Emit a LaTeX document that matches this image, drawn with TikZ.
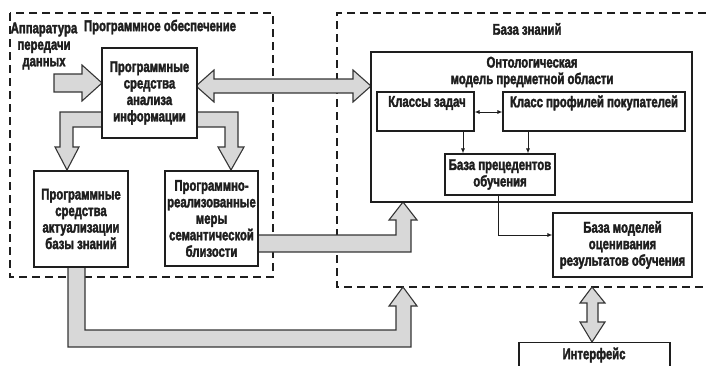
\documentclass[tikz,border=0pt]{standalone}
\usepackage{fontspec}
\newfontfamily\dfont{Liberation Sans}[FakeStretch=0.73, FakeBold=2.2]
\usetikzlibrary{arrows.meta}
\definecolor{fatfill}{RGB}{216,216,216}
\definecolor{ink}{RGB}{30,30,30}
\tikzset{
  every node/.style={font=\dfont\bfseries\fontsize{15.5}{16.5}\selectfont, text=ink, align=center, inner sep=0pt},
  box/.style={draw=ink, line width=1.1pt, fill=white},
  fat/.style={draw=ink!90, line width=1.1pt, fill=fatfill, line join=miter},
  dashbox/.style={draw=ink, line width=1.2pt, dash pattern=on 8pt off 5pt},
  thin/.style={draw=ink, line width=0.9pt, -{Latex[length=5pt,width=4pt]}},
  thinboth/.style={draw=ink, line width=0.9pt, {Latex[length=5pt,width=4pt]}-{Latex[length=5pt,width=4pt]}}
}
\begin{document}
\begin{tikzpicture}[x=1pt,y=-1pt]
\useasboundingbox (0,0) rectangle (706,365);
% dashed containers
\draw[dashbox] (10,13) rectangle (273,277);
\draw[dashbox] (706,13) -- (337,13) -- (337,287) -- (706,287);
% titles
\node (tsoft) at (160,27) {Программное обеспечение};
\node (tkb) at (527,29) {База знаний};
\node (tin) at (44,46) {Аппаратура\\передачи\\данных};
% fat arrows (drawn under boxes)
\draw[fat] (54,74) -- (82,74) -- (82,65) -- (102,83) -- (82,101) -- (82,92) -- (54,92) -- cycle;
\draw[fat] (196,86) -- (214,70) -- (214,79) -- (353,79) -- (353,70) -- (371,86) -- (353,102) -- (353,93) -- (214,93) -- (214,102) -- cycle;
\draw[fat] (102,112) -- (60,112) -- (60,147) -- (55,147) -- (67,170) -- (79,147) -- (73,147) -- (73,127) -- (102,127) -- cycle;
\draw[fat] (197,112) -- (238,112) -- (238,147) -- (244,147) -- (231,170) -- (218,147) -- (225,147) -- (225,127) -- (197,127) -- cycle;
\draw[fat] (258,235) -- (396,235) -- (396,220) -- (389,220) -- (403,202) -- (417,220) -- (411,220) -- (411,252) -- (258,252) -- cycle;
\draw[fat] (68,267) -- (68,347) -- (411,347) -- (411,306) -- (417,306) -- (403,287) -- (389,306) -- (396,306) -- (396,330) -- (85,330) -- (85,267) -- cycle;
\draw[fat] (592,287) -- (605,303) -- (598,303) -- (598,322) -- (605,322) -- (592,342) -- (580,322) -- (587,322) -- (587,303) -- (580,303) -- cycle;
% boxes
\node[box, minimum width=95pt, minimum height=90pt] (anal) at (149.5,93) {Программные\\средства\\анализа\\информации};
\node[box, minimum width=94pt, minimum height=96pt] (act) at (81,219) {Программные\\средства\\актуализации\\базы знаний};
\node[box, minimum width=93pt, minimum height=95pt] (sem) at (211.5,218.5) {Программно-\\реализованные\\меры\\семантической\\близости};
\node[box, minimum width=321pt, minimum height=150pt] (onto) at (531.5,127) {};
\node (ontot) at (532,72) {Онтологическая\\модель предметной области};
\node[box, minimum width=97pt, minimum height=39pt] (zad) at (425.5,111.5) {};
\node (zadt) at (427,103) {Классы задач};
\node[box, minimum width=182pt, minimum height=39pt] (prof) at (594,111.5) {};
\node (proft) at (594,103) {Класс профилей покупателей};
\node[box, minimum width=110pt, minimum height=41pt] (prec) at (500,174.5) {База прецедентов\\обучения};
\node[box, minimum width=139pt, minimum height=64pt] (mod) at (622.5,245) {База моделей\\оценивания\\результатов обучения};
\node[box, minimum width=151pt, minimum height=40pt, anchor=north] (intf) at (594.5,342) {};
\node (intft) at (594,355) {Интерфейс};
% thin connectors
\draw[thinboth] (zad.east |- 0,112) -- (prof.west |- 0,112);
\draw[thin] (463,0 |- zad.south) -- (463,0 |- prec.north);
\draw[thin] (528,0 |- prof.south) -- (528,0 |- prec.north);
\draw[thin] (498,0 |- prec.south) -- (498,235) -- (mod.west |- 0,235);
\end{tikzpicture}
\end{document}
